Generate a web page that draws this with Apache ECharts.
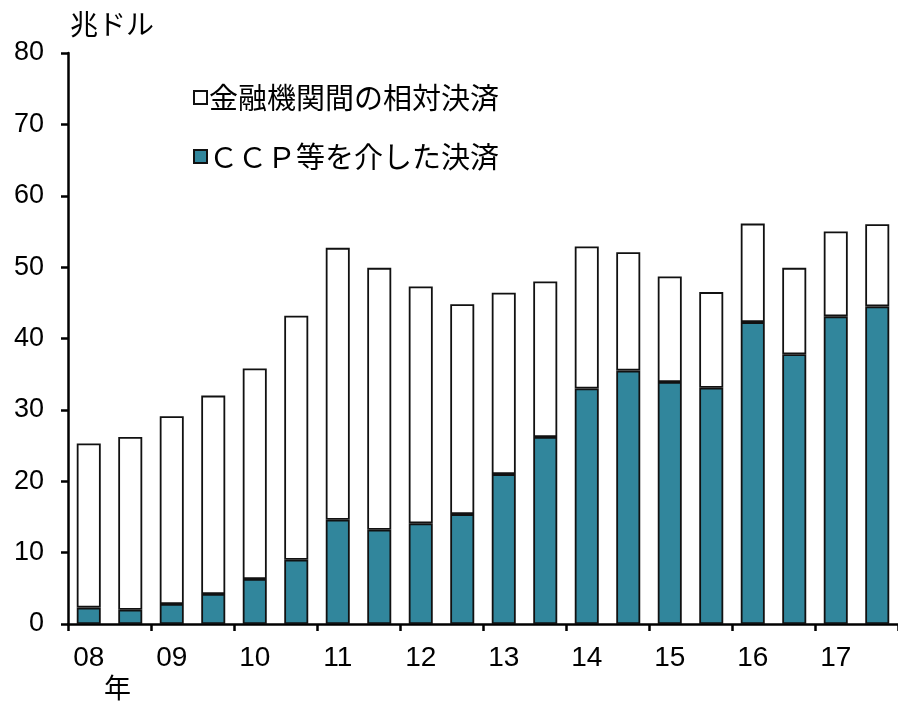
<!DOCTYPE html>
<html>
<head>
<meta charset="utf-8">
<script src="https://cdn.jsdelivr.net/npm/echarts@6/dist/echarts.min.js"></script>
<style>
  html, body { margin: 0; padding: 0; background: #fff; }
  #chart { width: 898px; height: 705px; }
</style>
</head>
<body>
<div id="chart"></div>
<script>
    // 半期ごと (2008年上期～2017年下期)
    const periods = ['08', '08H2', '09', '09H2', '10', '10H2', '11', '11H2', '12', '12H2',
                     '13', '13H2', '14', '14H2', '15', '15H2', '16', '16H2', '17', '17H2']
    // CCP等を介した決済 (兆ドル)
    const ccpValues = [2.3, 2.0, 2.8, 4.2, 6.3, 9.0, 14.6, 13.2, 14.1, 15.4,
                       21.0, 26.2, 33.0, 35.5, 33.9, 33.1, 42.3, 37.8, 43.1, 44.5]
    // 金融機関間の相対決済 (兆ドル)
    const bilateralValues = [23.0, 24.2, 26.3, 27.8, 29.5, 34.2, 38.1, 36.7, 33.2, 29.4,
                             25.4, 21.8, 19.9, 16.6, 14.8, 13.4, 13.8, 12.1, 11.9, 11.5]
    const yTicks = [0, 10, 20, 30, 40, 50, 60, 70, 80]

    const numFont = "'Liberation Sans Narrow', 'Liberation Sans', sans-serif"
    const jpFont = "'Noto Sans CJK JP', sans-serif"

    const chart = echarts.init(document.getElementById('chart'))
    chart.setOption({
        animation: false,
        backgroundColor: '#fff',
        grid: { left: 68, top: 53, width: 832, bottom: 81 },
        legend: {
            left: 188,
            top: 78,
            orient: 'vertical',
            itemGap: 30,
            itemWidth: 13,
            itemHeight: 13,
            icon: 'rect',
            textStyle: { fontFamily: jpFont, fontSize: 29, color: '#000', padding: [0, 0, 0, -3] },
            data: ['金融機関間の相対決済', 'ＣＣＰ等を介した決済']
        },
        xAxis: {
            type: 'category',
            data: periods,
            boundaryGap: true,
            axisLine: { lineStyle: { color: '#000', width: 2.5 } },
            axisTick: { show: true, interval: 1, length: 7, inside: false, lineStyle: { color: '#000', width: 2.5 } },
            axisLabel: {
                interval: 1,
                margin: 20,
                fontFamily: numFont,
                fontSize: 28,
                color: '#000',
                formatter: function (v) { return v.replace('H2', '') }
            }
        },
        yAxis: {
            type: 'value',
            min: yTicks[0],
            max: yTicks[yTicks.length - 1],
            interval: 10,
            splitLine: { show: false },
            axisLine: { show: true, lineStyle: { color: '#000', width: 2.5 } },
            axisTick: { show: true, length: 7, lineStyle: { color: '#000', width: 2.5 } },
            axisLabel: { margin: 24, fontFamily: numFont, fontSize: 27, color: '#000' }
        },
        series: [
            {
                name: 'ＣＣＰ等を介した決済',
                type: 'bar',
                stack: 'total',
                barWidth: 24,
                data: ccpValues,
                itemStyle: { color: '#31869C', borderColor: '#111', borderWidth: 1.8 }
            },
            {
                name: '金融機関間の相対決済',
                type: 'bar',
                stack: 'total',
                barWidth: 24,
                data: bilateralValues,
                itemStyle: { color: '#fff', borderColor: '#111', borderWidth: 1.8 }
            }
        ],
        graphic: [
            {
                type: 'text',
                left: 70,
                top: 10,
                style: { text: '兆ドル', fontFamily: jpFont, fontSize: 28, fill: '#000' }
            },
            {
                type: 'text',
                left: 104,
                top: 674,
                style: { text: '年', fontFamily: jpFont, fontSize: 27, fill: '#000' }
            }
        ]
    })
</script>
</body>
</html>
